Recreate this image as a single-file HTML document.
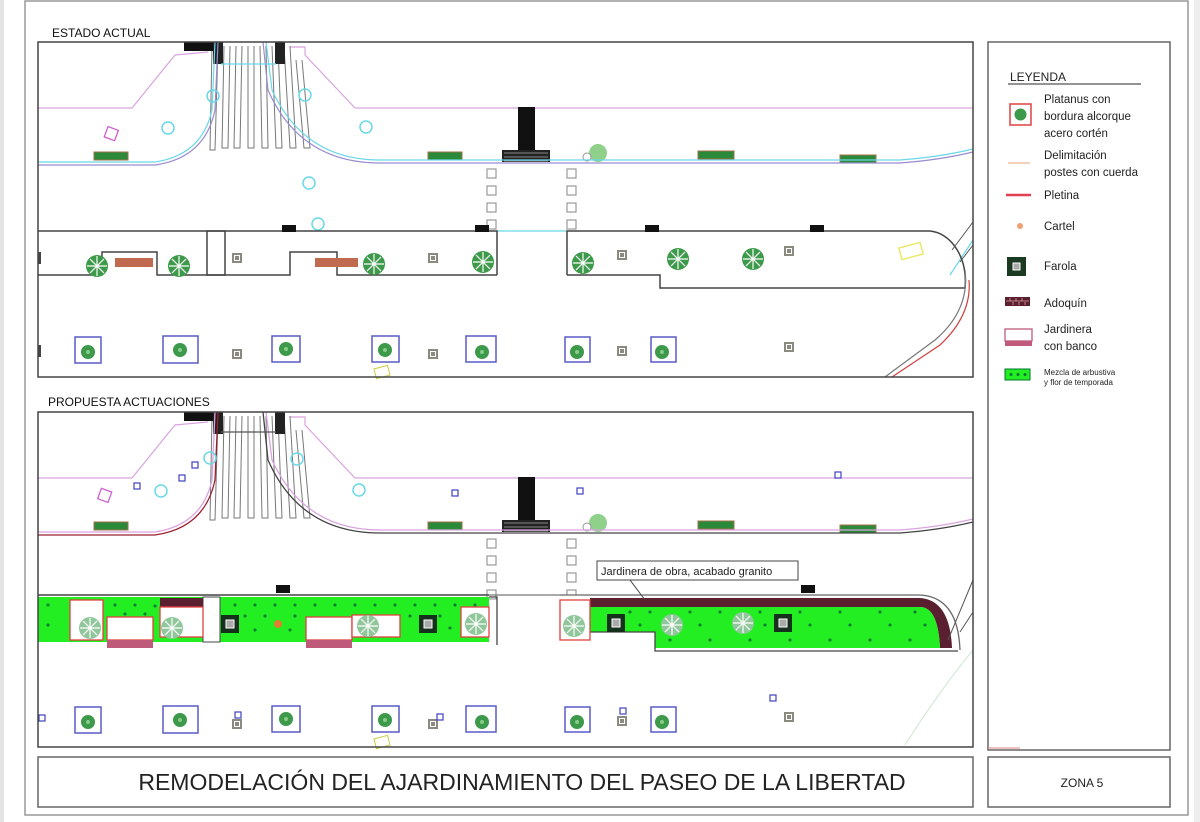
<!DOCTYPE html>
<html><head><meta charset="utf-8"><style>
html,body{margin:0;padding:0;background:#fff;width:1200px;height:822px;overflow:hidden}
svg{display:block}
text{font-family:"Liberation Sans",Arial,sans-serif}
</style></head><body>
<svg width="1200" height="822" viewBox="0 0 1200 822" xmlns="http://www.w3.org/2000/svg">
<defs>
<g id="tree"><circle r="11" fill="#3d9a4a"/><g stroke="#fff" stroke-width="1.2"><line x1="-10" y1="0" x2="10" y2="0"/><line x1="0" y1="-10" x2="0" y2="10"/><line x1="-7" y1="-7" x2="7" y2="7"/><line x1="-7" y1="7" x2="7" y2="-7"/></g></g>
<g id="ptree"><circle r="11" fill="#8fc79a"/><g stroke="#fff" stroke-width="1.2"><line x1="-10" y1="0" x2="10" y2="0"/><line x1="0" y1="-10" x2="0" y2="10"/><line x1="-7" y1="-7" x2="7" y2="7"/><line x1="-7" y1="7" x2="7" y2="-7"/></g></g>
<g id="far"><rect x="-5" y="-5" width="10" height="10" fill="#8a8a80"/><rect x="-2.5" y="-2.5" width="5" height="5" fill="none" stroke="#fff"/></g>
<g id="dfar"><rect x="-9" y="-9" width="18" height="18" fill="#16301e"/><rect x="-4" y="-4" width="8" height="8" fill="#aaa" stroke="#fff"/></g>
<g id="bsq"><circle r="7" fill="#3d9a4a"/><circle r="2" fill="#8c8"/></g>
<g id="base">
 <polyline points="38,108 132,108 175,55 208,52" fill="none" stroke="#d9a4e0" stroke-width="1.2"/>
 <polyline points="290,47 305,47 305,55 355,108 973,108" fill="none" stroke="#d9a4e0" stroke-width="1.2"/>
 <g stroke="#777" stroke-width="1" fill="none">
  <path d="M212,46 L210,150 L215,150 L218,46"/><path d="M224,46 L222,148 L228,148 L230,46"/>
  <path d="M236,46 L234,148 L240,148 L242,46"/><path d="M248,46 L248,148 L254,148 L254,46"/>
  <path d="M260,46 L262,148 L268,148 L266,46"/><path d="M272,46 L276,148 L282,148 L278,46"/>
  <path d="M284,46 L290,148 L296,148 L290,46"/><path d="M296,60 L304,148 L310,148 L302,60"/>
 </g>
 <rect x="184" y="42" width="36" height="9" fill="#111"/>
 <rect x="213" y="42" width="10" height="22" fill="#222"/>
 <rect x="275" y="42" width="10" height="22" fill="#222"/>
 <rect x="94" y="152" width="34" height="8" fill="#2a8a3a" stroke="#a0704a"/>
 <rect x="428" y="152" width="34" height="8" fill="#2a8a3a" stroke="#a0704a"/>
 <rect x="698" y="151" width="36" height="8" fill="#2a8a3a" stroke="#a0704a"/>
 <rect x="840" y="155" width="36" height="8" fill="#2a8a3a" stroke="#a0704a"/>
 <rect x="518" y="107" width="17" height="45" fill="#111"/>
 <rect x="502" y="150" width="48" height="12" fill="#222"/>
 <g fill="none" stroke="#888"><path d="M504,153h44M504,157h44M504,161h44"/></g>
 <circle cx="598" cy="153" r="9" fill="#8fd08a"/>
 <circle cx="587" cy="157" r="4" fill="#fff" stroke="#999"/>
 <g fill="#fff" stroke="#999" stroke-width="1.2">
  <rect x="487" y="169" width="9" height="9"/><rect x="487" y="186" width="9" height="9"/><rect x="487" y="203" width="9" height="9"/><rect x="487" y="220" width="9" height="9"/>
  <rect x="567" y="169" width="9" height="9"/><rect x="567" y="186" width="9" height="9"/><rect x="567" y="203" width="9" height="9"/><rect x="567" y="220" width="9" height="9"/>
 </g>
 <g fill="none" stroke="#5a5ac8" stroke-width="1.5">
  <rect x="75" y="337" width="26" height="26"/><rect x="163" y="336" width="35" height="27"/><rect x="272" y="336" width="28" height="26"/><rect x="372" y="336" width="27" height="26"/><rect x="466" y="336" width="30" height="26"/><rect x="565" y="337" width="25" height="25"/><rect x="651" y="337" width="25" height="25"/>
 </g>
 <use href="#bsq" x="88" y="352"/><use href="#bsq" x="180" y="350"/><use href="#bsq" x="286" y="349"/><use href="#bsq" x="385" y="350"/><use href="#bsq" x="482" y="352"/><use href="#bsq" x="577" y="352"/><use href="#bsq" x="662" y="352"/>
 <use href="#far" x="237" y="354"/><use href="#far" x="433" y="354"/><use href="#far" x="622" y="351"/><use href="#far" x="789" y="347"/>
 <rect x="375" y="367" width="14" height="10" fill="none" stroke="#cc4" transform="rotate(-15 382 372)"/>
</g>
</defs>

<rect x="0" y="0" width="4" height="822" fill="#e4e4e4"/>
<rect x="1194" y="0" width="6" height="822" fill="#eee"/>
<rect x="25" y="1" width="1163" height="814" fill="none" stroke="#999" stroke-width="1.5"/>

<text x="52" y="37" font-size="12" fill="#111">ESTADO ACTUAL</text>
<text x="48" y="406" font-size="12" fill="#111">PROPUESTA ACTUACIONES</text>

<!-- ===== TOP PANEL ===== -->
<use href="#base"/>
<g fill="none" stroke-width="1.2">
 <path d="M38,165 L155,165 Q205,158 215,110 L218,42" stroke="#9a8cd0"/>
 <path d="M38,162 L155,162 Q202,155 212,110 L215,42" stroke="#6ad8e8"/>
 <path d="M263,42 L268,90 Q300,163 380,163 L900,163 Q940,160 973,152" stroke="#9a8cd0"/>
 <path d="M266,42 L272,90 Q304,160 380,160 L900,160 Q940,157 973,149" stroke="#6ad8e8"/>
 <path d="M221,64 L276,64" stroke="#6ad8e8"/>
 <path d="M497,231 L567,231" stroke="#6ad8e8"/>
 <path d="M973,240 L950,275" stroke="#6ad8e8"/>
</g>
<g fill="none" stroke="#6ad8e8" stroke-width="1.5">
 <circle cx="213" cy="96" r="6"/><circle cx="168" cy="128" r="6"/><circle cx="305" cy="95" r="6"/><circle cx="366" cy="127" r="6"/><circle cx="309" cy="183" r="6"/><circle cx="318" cy="224" r="6"/>
</g>
<rect x="106" y="128" width="11" height="11" fill="none" stroke="#d05fd0" stroke-width="1.3" transform="rotate(20 111 133)"/>
<g fill="none" stroke="#444" stroke-width="1.5">
 <polyline points="38,231 497,231 497,275"/>
 <polyline points="567,275 567,231 930,231"/>
 <path d="M930,231 A38,50 0 0 1 965,288"/>
 <polyline points="38,275 102,275 102,252 157,252 157,275 290,275 290,252 337,252 337,275 497,275"/>
 <rect x="207" y="231" width="18" height="44"/>
 <polyline points="567,275 660,275 660,288 965,288"/>
</g>
<rect x="282" y="225" width="14" height="7" fill="#111"/>
<rect x="475" y="225" width="14" height="7" fill="#111"/>
<rect x="645" y="225" width="14" height="7" fill="#111"/>
<rect x="810" y="225" width="14" height="7" fill="#111"/>
<g fill="none" stroke="#555" stroke-width="1"><path d="M952,250 L973,222"/><path d="M960,262 L973,245"/></g>
<rect x="38" y="252" width="3" height="12" fill="#444"/><rect x="38" y="345" width="3" height="12" fill="#444"/>
<rect x="115" y="258" width="38" height="9" fill="#c06a50"/>
<rect x="315" y="258" width="43" height="9" fill="#c06a50"/>
<use href="#tree" x="97" y="266"/><use href="#tree" x="179" y="266"/><use href="#tree" x="374" y="264"/><use href="#tree" x="483" y="262"/><use href="#tree" x="583" y="263"/><use href="#tree" x="678" y="259"/><use href="#tree" x="753" y="259"/>
<use href="#far" x="237" y="258"/><use href="#far" x="433" y="258"/><use href="#far" x="622" y="255"/><use href="#far" x="789" y="251"/>
<rect x="900" y="245" width="22" height="12" fill="none" stroke="#eaea6a" stroke-width="1.5" transform="rotate(-15 911 251)"/>
<g fill="none" stroke-width="1.2"><path d="M965,270 Q970,310 935,340 L885,377" stroke="#777"/><path d="M969,280 Q972,315 940,345 L892,377" stroke="#d04040"/></g>
<rect x="38" y="42" width="935" height="335" fill="none" stroke="#444" stroke-width="1.5"/>

<!-- ===== LOWER PANEL ===== -->
<use href="#base" y="370"/>
<g fill="none" stroke-width="1.3">
 <path d="M38,535 L155,535 Q205,528 215,480 L218,412" stroke="#9a2030"/>
 <path d="M38,532 L155,532 Q202,525 212,480 L215,412" stroke="#d9a4e0"/>
 <path d="M263,412 L268,460 Q300,533 380,533 L900,533 Q940,530 973,522" stroke="#444"/>
 <path d="M266,412 L272,460 Q304,530 380,530 L900,530 Q940,527 973,519" stroke="#d9a4e0"/>
 <path d="M221,432 L276,432" stroke="#555"/>
</g>
<g fill="none" stroke="#6ad8e8" stroke-width="1.5">
 <circle cx="210" cy="458" r="6"/><circle cx="161" cy="491" r="6"/><circle cx="297" cy="459" r="6"/><circle cx="359" cy="490" r="6"/>
</g>
<rect x="99" y="490" width="11" height="11" fill="none" stroke="#d05fd0" stroke-width="1.3" transform="rotate(20 105 496)"/>
<g fill="#fff" stroke="#4040c0" stroke-width="1.2">
 <rect x="134" y="483" width="6" height="6"/><rect x="179" y="475" width="6" height="6"/><rect x="192" y="462" width="6" height="6"/><rect x="452" y="490" width="6" height="6"/><rect x="577" y="488" width="6" height="6"/><rect x="835" y="472" width="6" height="6"/><rect x="39" y="715" width="6" height="6"/><rect x="235" y="712" width="6" height="6"/><rect x="437" y="714" width="6" height="6"/><rect x="620" y="708" width="6" height="6"/><rect x="770" y="695" width="6" height="6"/>
</g>
<g>
 <rect x="38" y="597" width="451" height="45" fill="#22ee22"/>
 <rect x="203" y="597" width="17" height="45" fill="#fff" stroke="#444"/>
 <g fill="#073">
  <circle cx="48" cy="605" r="1.5"/><circle cx="48" cy="625" r="1.5"/><circle cx="115" cy="605" r="1.5"/><circle cx="135" cy="605" r="1.5"/><circle cx="155" cy="606" r="1.5"/><circle cx="125" cy="614" r="1.5"/><circle cx="145" cy="614" r="1.5"/>
  <circle cx="235" cy="605" r="1.5"/><circle cx="255" cy="605" r="1.5"/><circle cx="275" cy="605" r="1.5"/><circle cx="295" cy="605" r="1.5"/><circle cx="315" cy="605" r="1.5"/><circle cx="335" cy="605" r="1.5"/><circle cx="355" cy="605" r="1.5"/><circle cx="375" cy="605" r="1.5"/><circle cx="395" cy="605" r="1.5"/><circle cx="415" cy="605" r="1.5"/><circle cx="435" cy="605" r="1.5"/><circle cx="455" cy="605" r="1.5"/><circle cx="475" cy="605" r="1.5"/>
  <circle cx="245" cy="616" r="1.5"/><circle cx="265" cy="616" r="1.5"/><circle cx="295" cy="616" r="1.5"/><circle cx="410" cy="616" r="1.5"/><circle cx="440" cy="616" r="1.5"/><circle cx="450" cy="628" r="1.5"/><circle cx="255" cy="630" r="1.5"/><circle cx="290" cy="630" r="1.5"/>
 </g>
 <rect x="70" y="600" width="33" height="40" fill="#fff" stroke="#e04040" stroke-width="1.3"/>
 <rect x="107" y="617" width="46" height="23" fill="#fff" stroke="#e04040" stroke-width="1.3"/>
 <rect x="107" y="640" width="46" height="8" fill="#c05a7a"/>
 <rect x="160" y="598" width="43" height="9" fill="#5a2030"/>
 <rect x="160" y="607" width="43" height="30" fill="#fff" stroke="#e04040" stroke-width="1.3"/>
 <rect x="306" y="617" width="46" height="23" fill="#fff" stroke="#e04040" stroke-width="1.3"/>
 <rect x="306" y="640" width="46" height="8" fill="#c05a7a"/>
 <rect x="352" y="615" width="48" height="22" fill="#fff" stroke="#e04040" stroke-width="1.3"/>
 <rect x="461" y="607" width="28" height="30" fill="#fff" stroke="#e04040" stroke-width="1.3"/>
 <use href="#ptree" x="90" y="628"/><use href="#ptree" x="172" y="628"/><use href="#ptree" x="368" y="626"/><use href="#ptree" x="476" y="624"/>
 <use href="#dfar" x="230" y="624"/><use href="#dfar" x="428" y="624"/>
 <circle cx="278" cy="624" r="4" fill="#e08030"/>
</g>
<line x1="38" y1="595" x2="489" y2="595" stroke="#444" stroke-width="1.5"/>
<line x1="489" y1="595" x2="560" y2="595" stroke="#555" stroke-width="1"/>
<polyline points="489,597 497,597 497,645" fill="none" stroke="#444" stroke-width="1.3"/>
<rect x="276" y="585" width="14" height="8" fill="#111"/>
<path d="M560,595 L920,595 Q955,597 958,650 L560,650 Z" fill="#fff"/>
<path d="M590,598 L920,598 Q950,600 952,648 L940,648 Q938,607 920,607 L590,607 Z" fill="#5a2030"/>
<path d="M590,607 L920,607 Q938,607 940,648 L655,648 L655,632 L590,632 Z" fill="#22ee22"/>
<g fill="#073">
 <circle cx="630" cy="612" r="1.5"/><circle cx="650" cy="612" r="1.5"/><circle cx="690" cy="612" r="1.5"/><circle cx="720" cy="612" r="1.5"/><circle cx="760" cy="612" r="1.5"/><circle cx="800" cy="612" r="1.5"/><circle cx="840" cy="612" r="1.5"/><circle cx="880" cy="612" r="1.5"/><circle cx="915" cy="612" r="1.5"/>
 <circle cx="640" cy="625" r="1.5"/><circle cx="700" cy="625" r="1.5"/><circle cx="765" cy="625" r="1.5"/><circle cx="810" cy="625" r="1.5"/><circle cx="850" cy="625" r="1.5"/><circle cx="890" cy="625" r="1.5"/><circle cx="925" cy="625" r="1.5"/>
 <circle cx="670" cy="640" r="1.5"/><circle cx="710" cy="640" r="1.5"/><circle cx="750" cy="640" r="1.5"/><circle cx="790" cy="640" r="1.5"/><circle cx="830" cy="640" r="1.5"/><circle cx="870" cy="640" r="1.5"/><circle cx="910" cy="640" r="1.5"/>
</g>
<path d="M560,595 L920,595 Q958,597 960,650" fill="none" stroke="#666" stroke-width="1.3"/>
<polyline points="590,632 655,632 655,651 958,651" fill="none" stroke="#444" stroke-width="1.3"/>
<rect x="560" y="600" width="30" height="40" fill="#fff" stroke="#e04040" stroke-width="1.3"/>
<use href="#ptree" x="574" y="626"/><use href="#ptree" x="672" y="625"/><use href="#ptree" x="743" y="623"/>
<use href="#dfar" x="616" y="623"/><use href="#dfar" x="783" y="623"/>
<rect x="801" y="585" width="14" height="8" fill="#111"/>
<path d="M948,640 L973,580" stroke="#555" fill="none"/><path d="M960,632 L973,612" stroke="#555" fill="none"/>
<path d="M973,650 Q940,690 905,745" stroke="#cfe8cf" fill="none"/>
<line x1="630" y1="580" x2="645" y2="600" stroke="#444"/>
<rect x="597" y="561" width="201" height="19" fill="#fff" stroke="#444"/>
<text x="601" y="575" font-size="11" fill="#222">Jardinera de obra, acabado granito</text>
<rect x="38" y="412" width="935" height="335" fill="none" stroke="#444" stroke-width="1.5"/>

<rect x="38" y="757" width="935" height="50" fill="none" stroke="#666" stroke-width="1.5"/>
<text x="522" y="790" font-size="23" fill="#222" text-anchor="middle">REMODELACIÓN DEL AJARDINAMIENTO DEL PASEO DE LA LIBERTAD</text>
<rect x="988" y="757" width="182" height="50" fill="none" stroke="#666" stroke-width="1.5"/>
<text x="1082" y="787" font-size="12" fill="#222" text-anchor="middle">ZONA  5</text>

<rect x="988" y="42" width="182" height="708" fill="none" stroke="#666" stroke-width="1.5"/>
<line x1="988" y1="748" x2="1020" y2="748" stroke="#e08080"/>
<text x="1010" y="81" font-size="12" fill="#222">LEYENDA</text>
<line x1="1008" y1="84" x2="1141" y2="84" stroke="#555" stroke-width="1.3"/>
<rect x="1010" y="104" width="21" height="21" fill="#fff" stroke="#e04040" stroke-width="1.5"/>
<circle cx="1020.5" cy="114.5" r="6" fill="#3d9a4a"/>
<g font-size="11.5" fill="#222">
 <text x="1044" y="103">Platanus con</text>
 <text x="1044" y="120">bordura alcorque</text>
 <text x="1044" y="137">acero cortén</text>
 <text x="1044" y="159">Delimitación</text>
 <text x="1044" y="176">postes con cuerda</text>
 <text x="1044" y="199">Pletina</text>
 <text x="1044" y="230">Cartel</text>
 <text x="1044" y="270">Farola</text>
 <text x="1044" y="307">Adoquín</text>
 <text x="1044" y="333">Jardinera</text>
 <text x="1044" y="350">con banco</text>
</g>
<line x1="1008" y1="163" x2="1030" y2="163" stroke="#f0c0a0" stroke-width="1.5"/>
<line x1="1006" y1="195" x2="1031" y2="195" stroke="#e04050" stroke-width="2.5"/>
<circle cx="1020" cy="226" r="3" fill="#f0a070"/>
<rect x="1007" y="257" width="19" height="19" fill="#1c3a22"/><rect x="1013" y="263" width="7" height="7" fill="#aaa" stroke="#fff"/>
<rect x="1005" y="297" width="25" height="9" fill="#5a2030"/>
<g stroke="#e0a0a0" stroke-width="0.8"><path d="M1006,301h23M1010,298v3M1016,298v3M1022,298v3M1013,302v3M1019,302v3M1025,302v3"/></g>
<rect x="1005" y="329" width="27" height="12" fill="#fff" stroke="#c05a7a" stroke-width="1.3"/>
<rect x="1005" y="341" width="27" height="5" fill="#c05a7a"/>
<rect x="1005" y="369" width="25" height="11" fill="#22ee22" stroke="#073"/>
<g fill="#073"><circle cx="1011" cy="374.5" r="1.5"/><circle cx="1018" cy="374.5" r="1.5"/><circle cx="1025" cy="374.5" r="1.5"/></g>
<text x="1044" y="375" font-size="8" fill="#222">Mezcla de arbustiva</text>
<text x="1044" y="385" font-size="8" fill="#222">y flor de temporada</text>
</svg>
</body></html>
